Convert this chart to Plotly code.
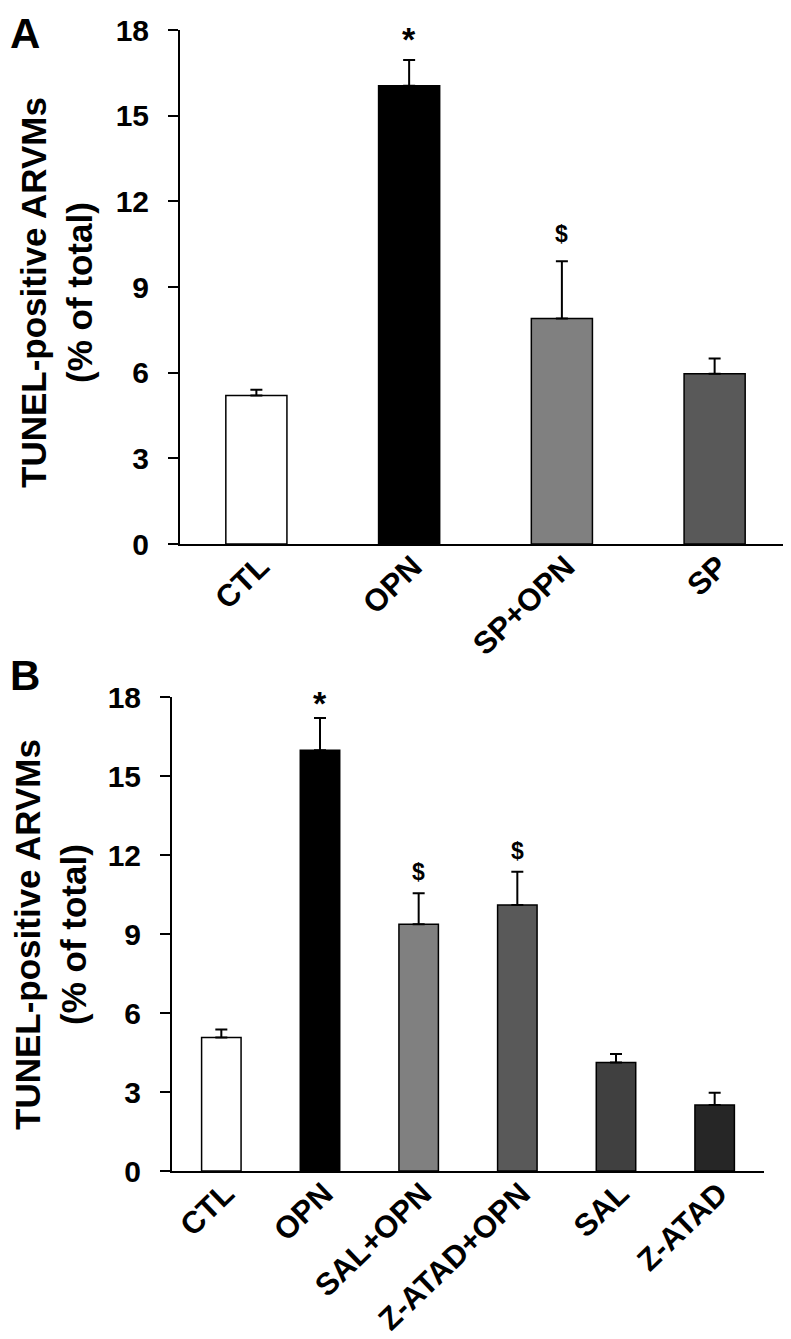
import plotly.graph_objects as go

FONT = "Liberation Sans, Arial, sans-serif"

# Panel A data
cats_a = ["CTL", "OPN", "SP+OPN", "SP"]
mean_a = [5.2, 16.05, 7.9, 5.96]
err_a = [0.2, 0.9, 2.0, 0.54]
colors_a = ["#ffffff", "#000000", "#808080", "#595959"]
marks_a = ["", "*", "$", ""]

# Panel B data
cats_b = ["CTL", "OPN", "SAL+OPN", "Z-ATAD+OPN", "SAL", "Z-ATAD"]
mean_b = [5.07, 15.98, 9.37, 10.1, 4.12, 2.51]
err_b = [0.3, 1.22, 1.18, 1.26, 0.32, 0.46]
colors_b = ["#ffffff", "#000000", "#808080", "#595959", "#404040", "#262626"]
marks_b = ["", "*", "$", "$", "", ""]

y_ticks = [0, 3, 6, 9, 12, 15, 18]
y_title = "TUNEL-positive ARVMs<br>(% of total)"

# page has an 8px body margin; figure sized to fill the 791x1339 window
OFF = 8
W, H = 791 - OFF, 1339 - OFF

fig = go.Figure()

def add_bars(cats, means, errs, colors, xa, ya):
    fig.add_trace(go.Bar(
        x=cats, y=means, width=0.4,
        marker=dict(color=colors, line=dict(color="black", width=1.5)),
        error_y=dict(type="data", symmetric=False, array=errs,
                     arrayminus=[0] * len(errs), color="black",
                     thickness=2, width=6),
        xaxis=xa, yaxis=ya, showlegend=False,
    ))

add_bars(cats_a, mean_a, err_a, colors_a, "x", "y")
add_bars(cats_b, mean_b, err_b, colors_b, "x2", "y2")

def px_x(p):
    return (p - OFF) / W

def px_y(p):
    return 1 - (p - OFF) / H

tick_font = dict(family=FONT, size=30, color="black", weight="bold")
xtick_font = dict(family=FONT, size=31, color="black", weight="bold")
common_x = dict(type="category", showline=True, linewidth=2, linecolor="black",
                ticks="", tickangle=-44, showgrid=False, zeroline=False,
                automargin=False, tickfont=xtick_font, ticklabelshift=4,
                ticklabelstandoff=-10)
common_y = dict(range=[0, 18], tickvals=y_ticks, showline=True, linewidth=2,
                linecolor="black", ticks="outside", ticklen=10, tickwidth=2,
                tickcolor="black", showgrid=False, zeroline=False,
                automargin=False, ticklabelstandoff=13, tickfont=tick_font)

fig.update_layout(
    width=W, height=H, margin=dict(l=0, r=0, t=0, b=0, autoexpand=False),
    paper_bgcolor="white", plot_bgcolor="white",
    font=dict(family=FONT, color="black"),
    bargap=0.6,
    xaxis=dict(domain=[px_x(180), 1.0], range=[-0.5, 3.5], anchor="y", **common_x),
    yaxis=dict(domain=[px_y(544), px_y(30)], anchor="x", **common_y),
    xaxis2=dict(domain=[px_x(172), px_x(764)], range=[-0.5, 5.5], anchor="y2", **common_x),
    yaxis2=dict(domain=[px_y(1171), px_y(697)], anchor="x2", **common_y),
)

ann = []
# significance marks (pixel gap above error bar differs per panel)
shifts = {("x", "*"): 0, ("x", "$"): 12, ("x2", "*"): -6, ("x2", "$"): 6}
for cats, means, errs, marks, xr, yr in [(cats_a, mean_a, err_a, marks_a, "x", "y"),
                                           (cats_b, mean_b, err_b, marks_b, "x2", "y2")]:
    for c, m, e, s in zip(cats, means, errs, marks):
        if s:
            ann.append(dict(x=c, y=m + e, xref=xr, yref=yr, text="<b>%s</b>" % s,
                            showarrow=False, yanchor="bottom", yshift=shifts[(xr, s)],
                            font=dict(family=FONT, size=34 if s == "*" else 23, color="black")))

# y titles
ann.append(dict(x=px_x(56), y=px_y(293), xref="paper", yref="paper", text="<b>%s</b>" % y_title,
                textangle=-90, showarrow=False, xanchor="center", yanchor="middle",
                font=dict(family=FONT, size=35, color="black")))
ann.append(dict(x=px_x(50), y=px_y(935), xref="paper", yref="paper", text="<b>%s</b>" % y_title,
                textangle=-90, showarrow=False, xanchor="center", yanchor="middle",
                font=dict(family=FONT, size=35, color="black")))
# panel letters
ann.append(dict(x=0, y=px_y(8), xref="paper", yref="paper", text="<b>A</b>", showarrow=False,
                xanchor="left", yanchor="top", font=dict(family=FONT, size=42, color="black")))
ann.append(dict(x=0, y=px_y(650), xref="paper", yref="paper", text="<b>B</b>", showarrow=False,
                xanchor="left", yanchor="top", font=dict(family=FONT, size=42, color="black")))

fig.update_layout(annotations=ann)
fig.write_html("out.html")
